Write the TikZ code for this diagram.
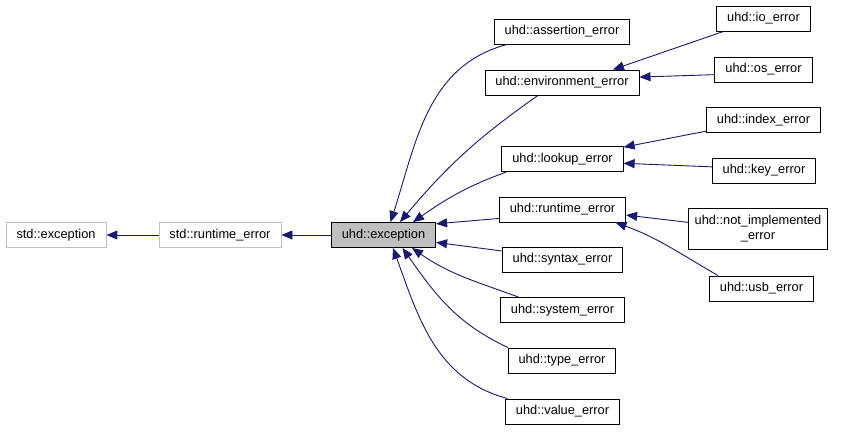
\documentclass[tikz,border=0pt]{standalone}
\usepackage{fontspec}
\setmainfont{Liberation Sans}
\usetikzlibrary{arrows.meta}
\definecolor{edgeblue}{RGB}{25,25,112}
\definecolor{basegray}{RGB}{191,191,191}

\begin{document}
\begin{tikzpicture}[x=1pt,y=1pt,
  cls/.style={draw=black,line width=0.9pt,minimum height=25pt,inner xsep=10.5pt,
    text height=9.3pt,text depth=2.7pt,font=\fontsize{12.8}{15}\selectfont},
  ext/.style={cls,draw=basegray},
  cur/.style={cls,fill=basegray},
  inh/.style={edgeblue,line width=0.9pt,-{Triangle[length=11pt,width=9pt]}}]
\useasboundingbox (0,0) rectangle (845,-431);
% base classes
\node[ext] (StdExc) at (56,-235) {std::exception};
\node[ext] (StdRt) at (220,-235) {std::runtime\_error};
\node[cur] (Exc) at (383.5,-235) {uhd::exception};
% direct subclasses
\node[cls] (Assert) at (562,-31.5) {uhd::assertion\_error};
\node[cls] (Env) at (562,-82.5) {uhd::environment\_error};
\node[cls] (Lookup) at (562.5,-159) {uhd::lookup\_error};
\node[cls] (Rt) at (562.5,-209.5) {uhd::runtime\_error};
\node[cls] (Syntax) at (562.5,-259.5) {uhd::syntax\_error};
\node[cls] (System) at (562.5,-310) {uhd::system\_error};
\node[cls] (Type) at (562,-360.5) {uhd::type\_error};
\node[cls] (Value) at (562.5,-411.5) {uhd::value\_error};
% second level
\node[cls] (Io) at (763.5,-18.5) {uhd::io\_error};
\node[cls] (Os) at (763.5,-69.5) {uhd::os\_error};
\node[cls] (Index) at (763.5,-120) {uhd::index\_error};
\node[cls] (Key) at (764,-170.5) {uhd::key\_error};
\node[cls,align=center,text height=,text depth=,minimum height=41pt,inner xsep=6pt] (NotImpl) at (758,-228.5) {uhd::not\_implemented\\\_error};
\node[cls] (Usb) at (761.5,-288.5) {uhd::usb\_error};

\draw[inh] (StdRt) -- (StdExc);
\draw[inh] (Exc) -- (StdRt);
\draw[inh] ([xshift=-55pt]Assert.south) to[out=195,in=72] ([xshift=7pt]Exc.north);
\draw[inh] ([xshift=-24pt]Env.south) to[out=215,in=50] ([xshift=16.5pt]Exc.north);
\draw[inh] ([xshift=-56pt]Lookup.south) to[out=200,in=35] ([xshift=29.5pt]Exc.north);
\draw[inh] (Rt.188) -- (Exc.12);
\draw[inh] (Syntax.172) -- (Exc.352);
\draw[inh] ([xshift=-44pt]System.north) to[out=160,in=-35] ([xshift=28.5pt]Exc.south);
\draw[inh] ([xshift=-54pt]Type.north) to[out=155,in=-55] ([xshift=19pt]Exc.south);
\draw[inh] ([xshift=-55pt]Value.north) to[out=165,in=-70] ([xshift=9.5pt]Exc.south);
\draw[inh] ([xshift=-40pt]Io.south) -- ([xshift=51pt]Env.north);
\draw[inh] (Os.186) -- (Env.4);
\draw[inh] (Index.191) -- (Lookup.11);
\draw[inh] (Key.176) -- (Lookup.356);
\draw[inh] (NotImpl.175) -- (Rt.355);
\draw[inh] ([xshift=-43.5pt]Usb.north) to[out=150,in=-20] ([xshift=53pt]Rt.south);
\end{tikzpicture}
\end{document}
